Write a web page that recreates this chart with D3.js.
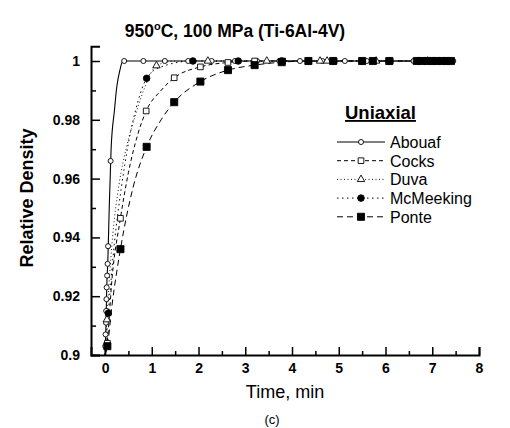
<!DOCTYPE html>
<html>
<head>
<meta charset="utf-8">
<script src="https://cdn.jsdelivr.net/npm/d3@7"></script>
<style>
  body { margin: 0; background: #fff; }
  svg { display: block; font-family: "Liberation Sans", Arial, sans-serif; }
</style>
</head>
<body>
<div id="chart"></div>
<script>
// Densification curves, 950C / 100 MPa, Ti-6Al-4V
const seriesNames = ["Abouaf", "Cocks", "Duva", "McMeeking", "Ponte"];

const abouafLine = [[0, 0.9], [0.02, 0.91], [0.035, 0.922], [0.06, 0.932], [0.09, 0.95], [0.13, 0.97],
  [0.2, 0.983], [0.25, 0.991], [0.32, 0.997], [0.38, 1.0], [7.45, 1.0]];
const cocksLine = [[0, 0.9], [0.05, 0.905], [0.15, 0.926], [0.33, 0.9465], [0.5, 0.962], [0.7, 0.975],
  [0.88, 0.983], [1.2, 0.990], [1.48, 0.9943], [2.04, 0.998], [2.63, 0.9995], [3.2, 1.0], [7.45, 1.0]];
const duvaLine = [[0, 0.9], [0.05, 0.915], [0.15, 0.938], [0.3, 0.958], [0.47, 0.9714], [0.65, 0.9816],
  [0.85, 0.991], [1.1, 0.9984], [1.5, 1.0], [7.45, 1.0]];
const mcmeekingLine = [[0, 0.9], [0.07, 0.9142], [0.2, 0.938], [0.35, 0.957], [0.5, 0.972], [0.7, 0.986],
  [0.89, 0.9941], [1.2, 0.998], [1.88, 1.0], [7.45, 1.0]];
const ponteLine = [[0, 0.9], [0.05, 0.903], [0.15, 0.917], [0.33, 0.936], [0.6, 0.957], [0.89, 0.9708],
  [1.2, 0.98], [1.48, 0.986], [2.04, 0.993], [2.63, 0.9969], [3.2, 0.9986], [3.78, 0.9996], [4.35, 1.0], [7.45, 1.0]];

const abouafMarks = [[0.005, 0.903], [0.012, 0.907], [0.02, 0.911], [0.025, 0.915], [0.03, 0.919],
  [0.035, 0.923], [0.045, 0.927], [0.055, 0.931], [0.065, 0.937], [0.12, 0.966],
  [0.41, 1], [0.82, 1], [1.28, 1], [1.78, 1], [2.28, 1], [2.78, 1], [3.25, 1], [3.73, 1], [4.17, 1],
  [4.65, 1], [5.13, 1], [5.6, 1], [6.1, 1], [6.6, 1], [6.9, 1], [7.15, 1], [7.45, 1]];
const cocksMarks = [[0.05, 0.904], [0.33, 0.9465], [0.88, 0.983], [1.48, 0.9943], [2.04, 0.998],
  [2.63, 0.9995], [3.2, 1], [3.8, 1], [4.35, 1], [4.9, 1], [5.5, 1], [6.1, 1], [6.7, 1], [7.0, 1], [7.3, 1]];
const duvaMarks = [[0.04, 0.912], [1.1, 0.9984], [2.2, 1], [3.46, 1], [4.6, 1], [4.75, 1], [5.8, 1], [6.9, 1]];
const mcmeekingMarks = [[0.07, 0.9142], [0.89, 0.9941], [1.88, 1], [2.85, 1], [3.78, 1], [4.35, 1],
  [4.88, 1], [5.5, 1], [6.08, 1], [6.7, 1], [6.85, 1], [7.0, 1], [7.15, 1], [7.3, 1]];
const ponteMarks = [[0.05, 0.903], [0.33, 0.936], [0.89, 0.9708], [1.48, 0.986], [2.04, 0.993],
  [2.63, 0.9969], [3.2, 0.9986], [3.78, 0.9996], [4.35, 1], [4.88, 1], [5.5, 1], [5.73, 1], [6.08, 1],
  [6.67, 1], [6.78, 1], [6.9, 1], [7.0, 1], [7.1, 1], [7.2, 1], [7.3, 1], [7.4, 1]];

const xTicks = [0, 1, 2, 3, 4, 5, 6, 7, 8];
const xMinorTicks = [0.5, 1.5, 2.5, 3.5, 4.5, 5.5, 6.5, 7.5];
const yTicks = [0.9, 0.92, 0.94, 0.96, 0.98, 1.0];
const yMinorTicks = [0.91, 0.93, 0.95, 0.97, 0.99];

const width = 510, height = 428;

const svg = d3.select("#chart").append("svg")
  .attr("width", width)
  .attr("height", height);

const x = d3.scaleLinear().domain([-0.3, 8]).range([91, 479]);
const y = d3.scaleLinear().domain([0.9, 1.005]).range([355, 46.3]);

// style per series
const styles = {
  Abouaf:    { line: abouafLine,    marks: abouafMarks,    dash: null,        sym: d3.symbolCircle,   size: 20, fill: "#fff", sw: 1.1 },
  Cocks:     { line: cocksLine,     marks: cocksMarks,     dash: "4,3",       sym: d3.symbolSquare,   size: 32, fill: "#fff", sw: 1 },
  Duva:      { line: duvaLine,      marks: duvaMarks,      dash: "1,2.5",     sym: d3.symbolTriangle, size: 24, fill: "#fff", sw: 0.9 },
  McMeeking: { line: mcmeekingLine, marks: mcmeekingMarks, dash: "1.5,3.5",   sym: d3.symbolCircle,   size: 34, fill: "#000", sw: 1 },
  Ponte:     { line: ponteLine,     marks: ponteMarks,     dash: "6,4",       sym: d3.symbolSquare,   size: 50, fill: "#000", sw: 1 }
};

const line = d3.line().x(d => x(d[0])).y(d => y(d[1])).curve(d3.curveMonotoneX);

// curves
seriesNames.forEach(name => {
  const s = styles[name];
  svg.append("path")
    .datum(s.line)
    .attr("d", line)
    .attr("fill", "none")
    .attr("stroke", "#000")
    .attr("stroke-width", s.sw)
    .attr("stroke-dasharray", s.dash);
});

// markers
seriesNames.forEach(name => {
  const s = styles[name];
  svg.append("g")
    .selectAll("path")
    .data(s.marks)
    .join("path")
    .attr("transform", d => `translate(${x(d[0])},${y(d[1])})`)
    .attr("d", d3.symbol().type(s.sym).size(s.size))
    .attr("fill", s.fill)
    .attr("stroke", "#000")
    .attr("stroke-width", 0.9);
});

// axes
svg.append("g").attr("transform", `translate(0,${y(0.9)})`)
  .call(d3.axisBottom(x).tickValues(xTicks).tickSize(-8).tickPadding(8).tickFormat(d3.format("d")));
svg.append("g").attr("transform", `translate(0,${y(0.9)})`)
  .call(d3.axisBottom(x).tickValues(xMinorTicks).tickSize(-4).tickFormat(""))
  .call(g => g.select(".domain").remove());

svg.append("g").attr("transform", `translate(${x(-0.3)},0)`)
  .call(d3.axisLeft(y).tickValues(yTicks).tickSize(-9).tickPadding(11).tickFormat(d => d === 1 ? "1" : d3.format(".2~f")(d)));
svg.append("g").attr("transform", `translate(${x(-0.3)},0)`)
  .call(d3.axisLeft(y).tickValues(yMinorTicks).tickSize(-5).tickFormat(""))
  .call(g => g.select(".domain").remove());

svg.selectAll(".domain").attr("stroke", "#000").attr("stroke-width", 2);
svg.selectAll(".tick line").attr("stroke", "#000").attr("stroke-width", 1.5);
svg.selectAll(".tick text")
  .attr("fill", "#000")
  .style("font-size", "14px")
  .style("font-weight", "bold")
  .style("font-family", "'Liberation Sans', Arial, sans-serif");

// title
const title = svg.append("text")
  .attr("x", 235)
  .attr("y", 37)
  .attr("text-anchor", "middle")
  .style("font-size", "17.5px")
  .style("font-weight", "bold");
title.append("tspan").text("950");
title.append("tspan").attr("dy", -7).style("font-size", "11px").text("o");
title.append("tspan").attr("dy", 7).text("C, 100 MPa (Ti-6Al-4V)");

// axis titles
svg.append("text")
  .attr("transform", `translate(33,198) rotate(-90)`)
  .attr("text-anchor", "middle")
  .style("font-size", "18px")
  .style("font-weight", "bold")
  .text("Relative Density");

svg.append("text")
  .attr("x", 285)
  .attr("y", 398)
  .attr("text-anchor", "middle")
  .style("font-size", "18px")
  .text("Time, min");

svg.append("text")
  .attr("x", 272)
  .attr("y", 424)
  .attr("text-anchor", "middle")
  .style("font-size", "13px")
  .text("(c)");

// legend
const legend = svg.append("g").attr("transform", "translate(337,0)");
legend.append("text")
  .attr("x", 8)
  .attr("y", 119)
  .style("font-size", "18.5px")
  .style("font-weight", "bold")
  .style("text-decoration", "underline")
  .text("Uniaxial");

seriesNames.forEach((name, i) => {
  const s = styles[name];
  const ly = 142 + i * 18.7;
  legend.append("line")
    .attr("x1", 0).attr("x2", 48)
    .attr("y1", ly).attr("y2", ly)
    .attr("stroke", "#000")
    .attr("stroke-width", s.sw)
    .attr("stroke-dasharray", s.dash);
  legend.append("path")
    .attr("transform", `translate(24,${ly})`)
    .attr("d", d3.symbol().type(s.sym).size(s.size))
    .attr("fill", s.fill)
    .attr("stroke", "#000")
    .attr("stroke-width", 0.9);
  legend.append("text")
    .attr("x", 53)
    .attr("y", ly + 6)
    .style("font-size", "16px")
    .text(name);
});
</script>
</body>
</html>
